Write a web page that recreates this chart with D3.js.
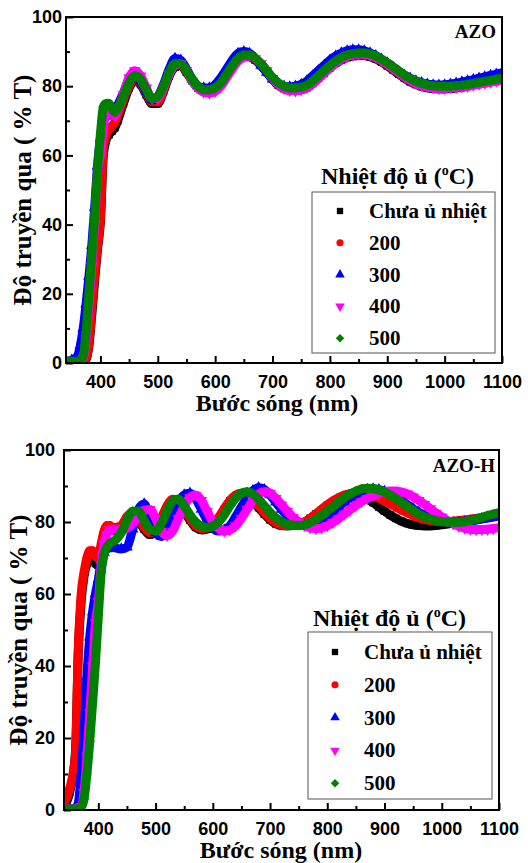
<!DOCTYPE html>
<html><head><meta charset="utf-8">
<script src="https://cdn.jsdelivr.net/npm/d3@7"></script>
<style>body{margin:0;background:#fff}svg{display:block}</style>
</head><body>
<svg id="c" width="528" height="863"></svg>
<script>
// ---------- DATA ----------
const wavelengths = [340,350,360,365,370,375,380,385,390,395,400,405,410,415,420,425,430,
  440,450,460,470,480,490,500,510,520,530,540,550,560,570,580,590,600,610,620,630,
  640,650,660,670,680,690,700,710,720,730,740,750,760,770,780,790,800,810,820,830,
  840,850,860,870,880,890,900,910,920,930,940,950,960,970,980,990,1000,1010,1020,1030,
  1040,1050,1060,1070,1080,1090,1100];

const seriesLabels = ["Chưa ủ nhiệt","200","300","400","500"];
const seriesColors = ["#000000","#ff0000","#0000ff","#ff00ff","#008000"];
const xTicks = [400,500,600,700,800,900,1000,1100];
const xMinorTicks = [450,550,650,750,850,950,1050];
const yTicks = [0,20,40,60,80,100];
const yMinorTicks = [10,30,50,70,90];

// AZO panel
const azoUnannealed = [0.3,0.3,0.3,0.3,0.5,1,5,14,24,33,41,60,64.5,66,67,68,70,
  75,79.5,81.5,80.5,77.5,75,75,78.5,83,85.5,
  86,84,81.5,79.5,78.5,78.5,79,80.5,83,85.5,
  87.5,88.5,88.5,87.5,86,84,82,80.3,79.3,78.8,
  78.8,79,79.6,80.8,82.3,83.8,85.3,86.6,87.6,88.3,
  88.7,88.9,88.9,88.5,87.9,87,85.9,84.7,83.5,82.3,
  81.3,80.5,79.9,79.5,79.3,79.2,79.2,79.3,79.5,79.7,
  80,80.3,80.6,80.9,81.2,81.5,81.8];
const azo200 = [0.3,0.3,0.3,0.4,0.6,1.5,6,16,26,34,42,62,66,67.5,68.5,69.5,71.5,
  76,80,82,81,78,75.5,75.5,79,83.5,86,
  86.3,84.3,81.8,79.8,78.8,78.8,79.3,80.8,83.3,85.8,
  87.8,88.8,88.8,87.8,86.3,84.3,82.3,80.6,79.6,79.1,
  79.1,79.3,79.9,81.1,82.6,84.1,85.6,86.9,87.9,88.6,
  89,89.2,89.2,88.8,88.2,87.3,86.2,85,83.8,82.6,
  81.6,80.8,80.2,79.8,79.6,79.5,79.5,79.6,79.8,80,
  80.3,80.6,80.9,81.2,81.5,81.8,82.1];
const azo300 = [0.5,0.8,2,5,10,17,25,34,45,57,65,71,71.5,71.5,72,73,74.5,
  78,82,83,81.5,78.5,76,77,80.5,85,88,
  87.5,85,82,80,79.5,79.5,80.5,82.5,85,87.5,
  89.5,90,89.5,88,86,84,82,80.7,80,79.8,
  80,80.5,81.5,83,84.5,86,87.5,88.7,89.6,90.2,
  90.5,90.5,90.2,89.6,88.8,87.8,86.7,85.5,84.3,83.2,
  82.3,81.5,81,80.6,80.4,80.3,80.4,80.6,80.9,81.2,
  81.5,81.9,82.3,82.7,83.1,83.5,83.8];
const azo400 = [0.3,0.3,0.4,0.6,1.5,7,17,28,40,55,60,68,72,73,72,71.5,73,
  77.5,82.5,84.5,83,79.5,76.5,76.5,79.5,83.5,86,
  86.5,84.5,81.5,79.5,78.3,78,78.5,80,82.5,85,
  87.3,88.5,88.7,88,86.5,84.5,82.3,80.5,79.3,78.8,
  78.7,79,79.6,80.7,82.2,83.8,85.3,86.7,87.8,88.6,
  89.1,89.3,89.3,89,88.4,87.5,86.4,85.2,84,82.8,
  81.7,80.8,80.2,79.8,79.5,79.4,79.4,79.5,79.6,79.8,
  80,80.3,80.6,80.9,81.2,81.5,81.8];
const azo500 = [0.5,0.5,0.5,0.8,2,9,20,31,42,56,66,74,75,75,73.5,72.5,73.5,
  77,81,83,82,79,76.5,77,80,84,86.5,
  86.5,84.5,82,80,79,79,79.5,81,83.5,86,
  88,89,89,88,86.5,84.5,82.5,81,80,79.5,
  79.5,79.7,80.3,81.5,83,84.5,86,87.3,88.3,89,
  89.4,89.6,89.6,89.3,88.7,87.8,86.8,85.6,84.4,83.2,
  82.2,81.4,80.8,80.4,80.1,80,80,80,80.1,80.3,
  80.5,80.8,81.1,81.4,81.7,82,82.3];

// AZO-H panel
const azohUnannealed = [1,5,16,44,58,65,68.5,70.5,70,68.5,68,73,77,78.5,78.5,78,77.5,
  78.5,81,82,80.5,78,76.5,77.5,80.5,84,86,
  85.5,83,80.5,78.5,77.8,78,79,81,83.5,85.8,
  87.3,87.7,87.2,85.8,84,82.2,80.6,79.5,79,78.9,
  79,79.3,80,81,82.2,83.4,84.6,85.6,86.4,87,
  87.3,87.4,87.1,86.4,85.4,84.2,83,81.9,81,80.2,
  79.6,79.2,79,78.9,78.9,79,79.2,79.4,79.7,80,
  80.3,80.6,80.9,81.1,81.3,81.5,81.7];
const azoh200 = [2,6,15,45,60,66,70,72,72,70.5,70,74,77.5,79,79,78.5,78.5,
  79,81.5,82.5,81,78.5,77,78,81,84.5,86.3,
  86,83.5,81,79,78.2,78.3,79.2,81.2,83.7,86,
  87.5,88,87.6,86.3,84.5,82.6,81,79.8,79.2,79,
  79,79.3,80,81,82.2,83.5,84.8,85.9,86.8,87.5,
  87.9,88.1,88,87.7,87.3,86.6,85.8,85,84.1,83.3,
  82.5,81.8,81.2,80.7,80.4,80.2,80.1,80.1,80.2,80.4,
  80.6,80.8,81,81.2,81.4,81.6,81.8];
const azoh300 = [0.3,0.3,0.5,2,10,22,37,48,55,60,64,69,71.5,72.5,73,73,72.8,
  72.5,73,78,83.5,85,81,77,76,78,82,
  85.5,87.5,88,86.5,83.5,80.5,78.3,77.5,77.8,79,
  81.5,84.2,86.8,88.7,89.5,89,87.5,85.5,83.5,81.7,
  80.3,79.4,79,79.1,79.6,80.5,81.6,82.9,84.2,85.5,
  86.7,87.7,88.5,89,89.2,89,88.5,87.8,86.9,85.9,
  84.8,83.7,82.7,81.8,81.1,80.6,80.2,80,79.9,79.9,
  80,80.2,80.5,80.8,81.1,81.4,81.7];
const azoh400 = [0.3,0.3,0.3,0.5,1,5,15,27,40,52,58,68,74,76.5,77.8,78,78,
  78,78.3,79.5,81.5,83.3,83.5,81,77.5,76.3,77.5,
  81,84.5,86.8,87.5,86,83,80,78.2,77.5,77.8,
  79,81,83.5,86,87.8,88.5,88,86.6,84.8,83,
  81.3,80,79,78.4,78.2,78.4,79,79.9,81,82.2,
  83.4,84.6,85.7,86.6,87.4,88,88.4,88.6,88.6,88.3,
  87.8,87,86,84.9,83.7,82.5,81.4,80.4,79.5,78.8,
  78.3,78,77.9,77.9,78,78.2,78.4];
const azoh500 = [0.3,0.3,0.3,0.4,0.8,3,10,19,30,41,54,66,71,73,74,74.5,75,
  77,80.5,83,83,80.5,78,77.5,79.5,83,85.8,
  86.4,84.5,82,80,78.8,78.5,78.8,80,82,84.5,
  86.7,88,88.4,87.8,86.3,84.5,82.7,81.2,80.1,79.4,
  79.1,79,79.2,79.8,80.7,81.8,83,84.3,85.6,86.8,
  87.8,88.6,89.2,89.4,89.3,88.9,88.3,87.5,86.5,85.4,
  84.3,83.2,82.2,81.4,80.8,80.4,80.1,80,79.9,79.9,
  80.1,80.4,80.8,81.3,81.8,82.2,82.6];

// ---------- DRAW ----------
const svg = d3.select("#c");
const serif = "'Liberation Serif','Times New Roman',serif";
const sans = "'Liberation Sans',Arial,sans-serif";

const symbolFor = [
  {type: d3.symbolSquare, rot: 0},
  {type: d3.symbolCircle, rot: 0},
  {type: d3.symbolTriangle, rot: 0},
  {type: d3.symbolTriangle, rot: 180},
  {type: d3.symbolSquare, rot: 45}
];

function drawPanel(cfg, idx) {
  const x = d3.scaleLinear().domain([340, 1100]).range([cfg.left, cfg.right]);
  const y = d3.scaleLinear().domain([0, 100]).range([cfg.bottom, cfg.top]);
  const g = svg.append("g");
  const clipId = "clip" + idx;
  svg.append("defs").append("clipPath").attr("id", clipId)
    .append("rect").attr("x", cfg.left).attr("y", cfg.top)
    .attr("width", cfg.right - cfg.left).attr("height", cfg.bottom - cfg.top);

  const plot = g.append("g").attr("clip-path", `url(#${clipId})`);
  const line = d3.line().x((d, i) => x(wavelengths[i])).y(d => y(d)).curve(d3.curveMonotoneX);

  cfg.series.forEach((vals, si) => {
    const sg = plot.append("g");
    sg.append("path").attr("d", line(vals)).attr("fill", "none")
      .attr("stroke", seriesColors[si]).attr("stroke-width", 9)
      .attr("stroke-linejoin", "round").attr("stroke-linecap", "round");
    const sym = symbolFor[si];
    const gen = d3.symbol().type(sym.type).size(si === 4 ? 50 : 58);
    sg.selectAll("path.m").data(vals).join("path").attr("class", "m")
      .attr("d", gen())
      .attr("transform", (d, i) => `translate(${x(wavelengths[i])},${y(d)}) rotate(${sym.rot})`)
      .attr("fill", seriesColors[si]);
  });

  // axes
  const xa = g.append("g").attr("transform", `translate(0,${cfg.bottom})`)
    .call(d3.axisBottom(x).tickValues(xTicks).tickSize(-7).tickPadding(cfg.xPad).tickFormat(d3.format("d")));
  const xm = g.append("g").attr("transform", `translate(0,${cfg.bottom})`)
    .call(d3.axisBottom(x).tickValues(xMinorTicks).tickSize(-4).tickFormat(""));
  const ya = g.append("g").attr("transform", `translate(${cfg.left},0)`)
    .call(d3.axisLeft(y).tickValues(yTicks).tickSize(-7).tickPadding(cfg.yPad));
  const ym = g.append("g").attr("transform", `translate(${cfg.left},0)`)
    .call(d3.axisLeft(y).tickValues(yMinorTicks).tickSize(-4).tickFormat(""));
  [xa, xm, ya, ym].forEach(a => {
    a.select(".domain").remove();
    a.selectAll("line").attr("stroke", "#000").attr("stroke-width", 2);
    a.selectAll("text").attr("font-family", sans).attr("font-weight", "bold")
      .attr("font-size", 18).attr("fill", "#000");
  });

  // frame
  g.append("rect").attr("x", cfg.left).attr("y", cfg.top)
    .attr("width", cfg.right - cfg.left).attr("height", cfg.bottom - cfg.top)
    .attr("fill", "none").attr("stroke", "#000").attr("stroke-width", 2);

  // tag
  g.append("text").attr("x", cfg.tagX).attr("y", cfg.tagY).attr("text-anchor", "end")
    .attr("font-family", serif).attr("font-weight", "bold").attr("font-size", 19)
    .text(cfg.tag);

  // axis titles
  g.append("text").attr("transform", `translate(${cfg.yTitleX},${(cfg.top + cfg.bottom) / 2}) rotate(-90)`)
    .attr("text-anchor", "middle").attr("font-family", serif).attr("font-weight", "bold")
    .attr("font-size", 25).text("Độ truyền qua ( % T)");
  g.append("text").attr("x", cfg.xTitleX).attr("y", cfg.xTitleY)
    .attr("text-anchor", "middle").attr("font-family", serif).attr("font-weight", "bold")
    .attr("font-size", 24).text("Bước sóng (nm)");

  // legend
  const L = cfg.legend;
  const lt = g.append("text").attr("x", L.titleX).attr("y", L.titleY)
    .attr("font-family", serif).attr("font-weight", "bold").attr("font-size", 24);
  lt.append("tspan").text("Nhiệt độ ủ (");
  lt.append("tspan").attr("dy", -9).attr("font-size", 14).text("o");
  lt.append("tspan").attr("dy", 9).text("C)");
  g.append("rect").attr("x", L.x0).attr("y", L.y0).attr("width", L.x1 - L.x0).attr("height", L.y1 - L.y0)
    .attr("fill", "#fff").attr("stroke", "#555").attr("stroke-width", 1);
  seriesLabels.forEach((lab, si) => {
    const cy = L.row0 + si * L.step;
    const sym = symbolFor[si];
    g.append("path").attr("d", d3.symbol().type(sym.type).size(si === 4 ? 36 : 40)())
      .attr("transform", `translate(${L.symX},${cy}) rotate(${sym.rot})`)
      .attr("fill", seriesColors[si]);
    g.append("text").attr("x", L.textX).attr("y", cy + 7)
      .attr("font-family", serif).attr("font-weight", "bold").attr("font-size", 21)
      .text(lab);
  });
}

drawPanel({
  left: 66, right: 502, top: 17, bottom: 363, xPad: 12, yPad: 4,
  series: [azoUnannealed, azo200, azo300, azo400, azo500],
  tag: "AZO", tagX: 496, tagY: 38,
  yTitleX: 31, xTitleX: 277, xTitleY: 411,
  legend: {titleX: 321, titleY: 184, x0: 312, y0: 192, x1: 495, y1: 353,
           row0: 211, step: 31.8, symX: 340, textX: 369}
}, 0);

drawPanel({
  left: 64, right: 499, top: 450, bottom: 810, xPad: 12, yPad: 9,
  series: [azohUnannealed, azoh200, azoh300, azoh400, azoh500],
  tag: "AZO-H", tagX: 495, tagY: 472,
  yTitleX: 27, xTitleX: 281, xTitleY: 858,
  legend: {titleX: 313, titleY: 626, x0: 308, y0: 632, x1: 492, y1: 799,
           row0: 652, step: 32.8, symX: 335, textX: 364}
}, 1);
</script>
</body></html>
